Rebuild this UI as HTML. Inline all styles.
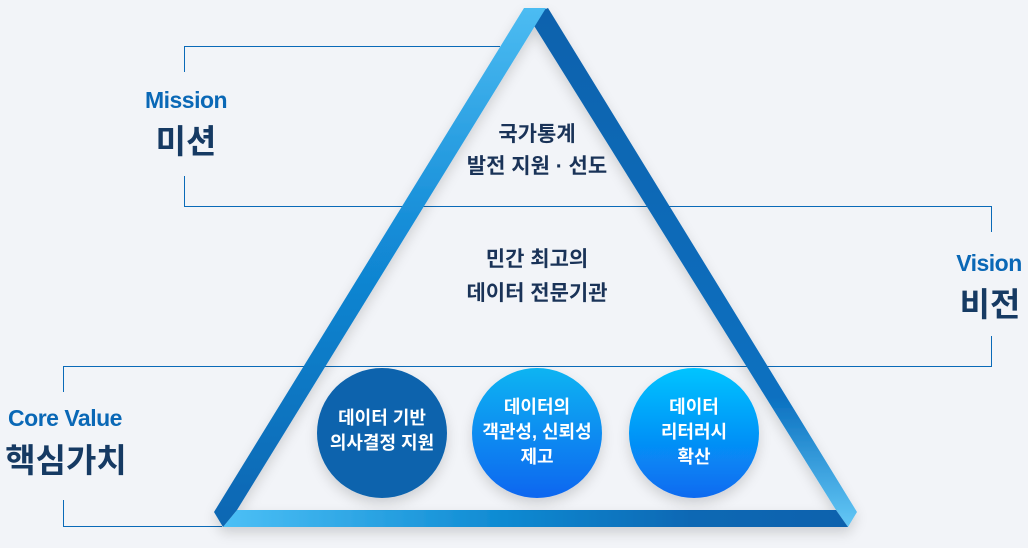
<!DOCTYPE html>
<html><head><meta charset="utf-8">
<style>
html,body{margin:0;padding:0;}
body{width:1028px;height:548px;background:#f2f4f8;position:relative;overflow:hidden;font-family:"Liberation Sans","Noto Sans CJK KR",sans-serif;}
.t{position:absolute;text-align:center;font-weight:bold;white-space:nowrap;}
.en{color:#0a68b6;font-size:23px;letter-spacing:-0.5px;}
.ko{color:#163a63;font-size:33px;}
.mid{color:#1a3358;font-size:21px;line-height:32px;width:300px;left:387px;}
.c{color:#fff;font-size:18px;line-height:25px;width:150px;}
</style></head><body>
<svg width="1028" height="548" style="position:absolute;left:0;top:0">
<defs>
<linearGradient id="gl" x1="0" y1="0" x2="0" y2="1"><stop offset="0" stop-color="#4cbcf2"/><stop offset="0.45" stop-color="#128ad6"/><stop offset="1" stop-color="#0a66b2"/></linearGradient>
<linearGradient id="gr" x1="0" y1="0" x2="0" y2="1"><stop offset="0" stop-color="#0a62ad"/><stop offset="0.75" stop-color="#0a70c0"/><stop offset="1" stop-color="#64c8f6"/></linearGradient>
<linearGradient id="gb" x1="0" y1="0" x2="1" y2="0"><stop offset="0" stop-color="#4cc0f6"/><stop offset="0.45" stop-color="#0e8ad2"/><stop offset="0.75" stop-color="#0a68b4"/><stop offset="1" stop-color="#0a62ad"/></linearGradient>
<linearGradient id="c2" x1="0" y1="0" x2="0" y2="1"><stop offset="0" stop-color="#10b4f2"/><stop offset="1" stop-color="#0a66f0"/></linearGradient>
<linearGradient id="c3" x1="0" y1="0" x2="0" y2="1"><stop offset="0" stop-color="#00c4ff"/><stop offset="1" stop-color="#0a6af0"/></linearGradient>
<filter id="sh" x="-10%" y="-10%" width="120%" height="120%"><feDropShadow dx="0" dy="6" stdDeviation="6" flood-color="#000" flood-opacity="0.15"/></filter>
</defs>
<g stroke="#0a6ab8" stroke-width="1" fill="none">
<polyline points="500,46.5 184.5,46.5 184.5,72"/>
<polyline points="184.5,176 184.5,206.5 991.5,206.5 991.5,232"/>
<polyline points="991.5,336 991.5,366.5 63.5,366.5 63.5,392"/>
<polyline points="63.5,500 63.5,526.5 222,526.5"/>
</g>
<g filter="url(#sh)">
<polygon points="528,16 548,8 857,512 848,527 836,510" fill="url(#gr)"/>
<polygon points="223,527 237,510 836,510 848,527" fill="url(#gb)"/>
<polygon points="524,8 546,8 237,510 223,527 214,512" fill="url(#gl)"/>
</g>
<circle cx="382" cy="433" r="65" fill="#0a64ad" filter="url(#sh)"/>
<circle cx="537" cy="433" r="65" fill="url(#c2)" filter="url(#sh)"/>
<circle cx="694" cy="433" r="65" fill="url(#c3)" filter="url(#sh)"/>
</svg>
<div class="t en" style="left:136px;top:87px;width:100px">Mission</div>
<div class="t ko" style="left:136px;top:115px;width:100px">미션</div>
<div class="t en" style="left:939px;top:250px;width:100px">Vision</div>
<div class="t ko" style="left:940px;top:278px;width:100px">비전</div>
<div class="t en" style="left:0px;top:405px;width:130px">Core Value</div>
<div class="t ko" style="left:0px;top:434px;width:132px">핵심가치</div>
<div class="t mid" style="top:119px">국가통계<br>발전 지원 · 선도</div>
<div class="t mid" style="top:243px;line-height:34px">민간 최고의<br>데이터 전문기관</div>
<div class="t c" style="left:307px;top:406px">데이터 기반<br>의사결정 지원</div>
<div class="t c" style="left:462px;top:395px">데이터의<br>객관성, 신뢰성<br>제고</div>
<div class="t c" style="left:619px;top:395px">데이터<br>리터러시<br>확산</div>
</body></html>
